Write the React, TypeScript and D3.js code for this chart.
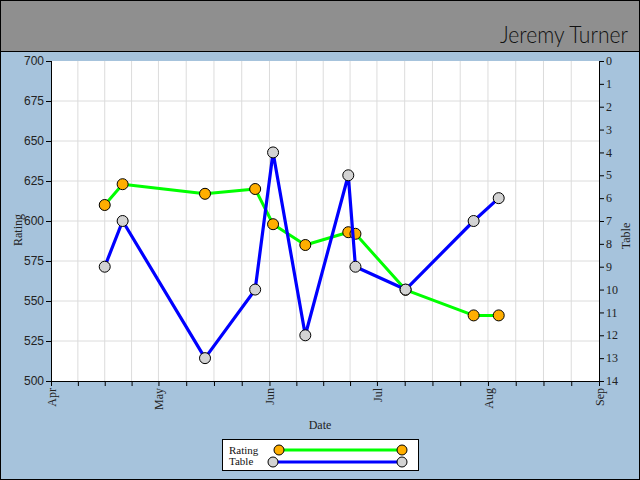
import React from "react";
import * as d3 from "d3";

const dates = ["2012-04-16", "2012-04-21", "2012-05-14", "2012-05-28", "2012-06-02", "2012-06-11", "2012-06-23", "2012-06-25", "2012-07-09", "2012-07-28", "2012-08-04"];
const rating = [610, 623, 617, 620, 598, 585, 593, 592, 557, 541, 541];
const table = [9, 7, 13, 10, 4, 12, 5, 9, 10, 7, 6];
const ratingTicks = [500, 525, 550, 575, 600, 625, 650, 675, 700];
const tableTicks = [0, 1, 2, 3, 4, 5, 6, 7, 8, 9, 10, 11, 12, 13, 14];
const monthStarts = ["2012-04-01", "2012-05-01", "2012-06-01", "2012-07-01", "2012-08-01", "2012-09-01"];
const monthLabels = ["Apr", "May", "Jun", "Jul", "Aug", "Sep"];
const title = "Jeremy Turner";

const W = 640, H = 480;
const L = 51, R = 599, T = 61, B = 381;

export default function App() {
  const parse = d3.timeParse("%Y-%m-%d");
  const ds = dates.map((d) => parse(d) as Date);
  const ms = monthStarts.map((d) => parse(d) as Date);
  const x = d3.scaleTime().domain([ms[0], ms[ms.length - 1]]).range([L, R]);
  const yL = d3.scaleLinear().domain([500, 700]).range([B, T]);
  const yR = d3.scaleLinear().domain([0, 14]).range([T, B]);

  const minor: Date[] = [];
  for (let i = 0; i < ms.length - 1; i++) {
    const a = ms[i].getTime(), b = ms[i + 1].getTime();
    for (let k = 0; k < 4; k++) minor.push(new Date(a + (k * (b - a)) / 4));
  }
  minor.push(ms[ms.length - 1]);

  const lineR = d3.line<number>().x((_, i) => x(ds[i])).y((v) => yL(v));
  const lineT = d3.line<number>().x((_, i) => x(ds[i])).y((v) => yR(v));

  const serif = "'Liberation Serif', 'DejaVu Serif', serif";
  const sans = "'Liberation Sans', Arial, sans-serif";

  return (
    <div style={{ position: "fixed", left: 0, top: 0 }}>
      <svg width={W} height={H} style={{ display: "block" }}>
        <rect x={0} y={0} width={W} height={H} fill="#a6c3dc" />
        <rect x={0} y={0} width={W} height={51} fill="#8f8f8f" />
        <line x1={0} x2={W} y1={51.5} y2={51.5} stroke="#000" />
        <rect x={0.5} y={0.5} width={W - 1} height={H - 1} fill="none" stroke="#000" />
        <text x={628} y={43} textAnchor="end" fontFamily="Lato, 'Open Sans', sans-serif" fontWeight={300} fontSize={23} textLength={128} lengthAdjust="spacingAndGlyphs" fill="#111">{title}</text>

        <rect x={L} y={T} width={R - L} height={B - T} fill="#fff" />
        {minor.slice(1, -1).map((d, i) => (
          <line key={"vg" + i} x1={x(d)} x2={x(d)} y1={T} y2={B} stroke="#dcdcdc" />
        ))}
        {ratingTicks.slice(1, -1).map((v) => (
          <line key={"hg" + v} x1={L} x2={R} y1={yL(v)} y2={yL(v)} stroke="#dcdcdc" />
        ))}

        <path d={lineR(rating) || ""} fill="none" stroke="#00ff00" strokeWidth={3} strokeLinejoin="round" />
        {rating.map((v, i) => (
          <circle key={"rc" + i} cx={x(ds[i])} cy={yL(v)} r={5.5} fill="#ffae00" stroke="#000" strokeWidth={1} />
        ))}
        <path d={lineT(table) || ""} fill="none" stroke="#0000ff" strokeWidth={3.2} strokeLinejoin="round" />
        {table.map((v, i) => (
          <circle key={"tc" + i} cx={x(ds[i])} cy={yR(v)} r={5.5} fill="#d3d3d3" stroke="#000" strokeWidth={1} />
        ))}

        {/* axes */}
        <line x1={L + 0.5} x2={L + 0.5} y1={T} y2={B + 0.5} stroke="#000" />
        <line x1={R + 0.5} x2={R + 0.5} y1={T} y2={B + 0.5} stroke="#000" />
        <line x1={L} x2={R + 1} y1={B + 0.5} y2={B + 0.5} stroke="#000" />
        {ratingTicks.map((v) => (
          <g key={"lt" + v}>
            <line x1={L - 5} x2={L} y1={yL(v) + 0.5} y2={yL(v) + 0.5} stroke="#000" />
            <text x={L - 7} y={yL(v)} dy="0.35em" textAnchor="end" fontFamily={sans} fontSize={12} fill="#222">{v}</text>
          </g>
        ))}
        {tableTicks.map((v) => (
          <g key={"rt" + v}>
            <line x1={R} x2={R + 5} y1={yR(v) + 0.5} y2={yR(v) + 0.5} stroke="#000" />
            <text x={R + 7} y={yR(v)} dy="0.35em" textAnchor="start" fontFamily={serif} fontSize={12} fill="#222">{v}</text>
          </g>
        ))}
        {minor.map((d, i) => (
          <line key={"bt" + i} x1={x(d) + 0.5} x2={x(d) + 0.5} y1={B} y2={B + 5} stroke="#000" />
        ))}
        {ms.map((d, i) => (
          <text key={"ml" + i} transform={`translate(${x(d) + 0.5},${B + 7}) rotate(-90)`} dy="0.35em" textAnchor="end" fontFamily={serif} fontSize={12} fill="#222">{monthLabels[i]}</text>
        ))}
        <text x={320} y={425} dy="0.35em" textAnchor="middle" fontFamily={serif} fontSize={12} fill="#222">Date</text>
        <text transform={`translate(18,230) rotate(-90)`} dy="0.35em" textAnchor="middle" fontFamily={serif} fontSize={12} fill="#222">Rating</text>
        <text transform={`translate(626,236) rotate(-90)`} dy="0.35em" textAnchor="middle" fontFamily={serif} fontSize={12} fill="#222">Table</text>

        {/* legend */}
        <rect x={222.5} y={439.5} width={196} height={31} fill="#fff" stroke="#000" />
        <text x={229} y={450} dy="0.33em" fontFamily={serif} fontSize={11} fill="#111">Rating</text>
        <text x={229} y={461.5} dy="0.33em" fontFamily={serif} fontSize={11} fill="#111">Table</text>
        <line x1={279} x2={402} y1={450} y2={450} stroke="#00ff00" strokeWidth={3} />
        <circle cx={279} cy={450} r={5} fill="#ffae00" stroke="#000" />
        <circle cx={402} cy={450} r={5} fill="#ffae00" stroke="#000" />
        <line x1={273} x2={402} y1={462} y2={462} stroke="#0000ff" strokeWidth={3} />
        <circle cx={273} cy={462} r={5} fill="#d3d3d3" stroke="#000" />
        <circle cx={402} cy={462} r={5} fill="#d3d3d3" stroke="#000" />
      </svg>
    </div>
  );
}
